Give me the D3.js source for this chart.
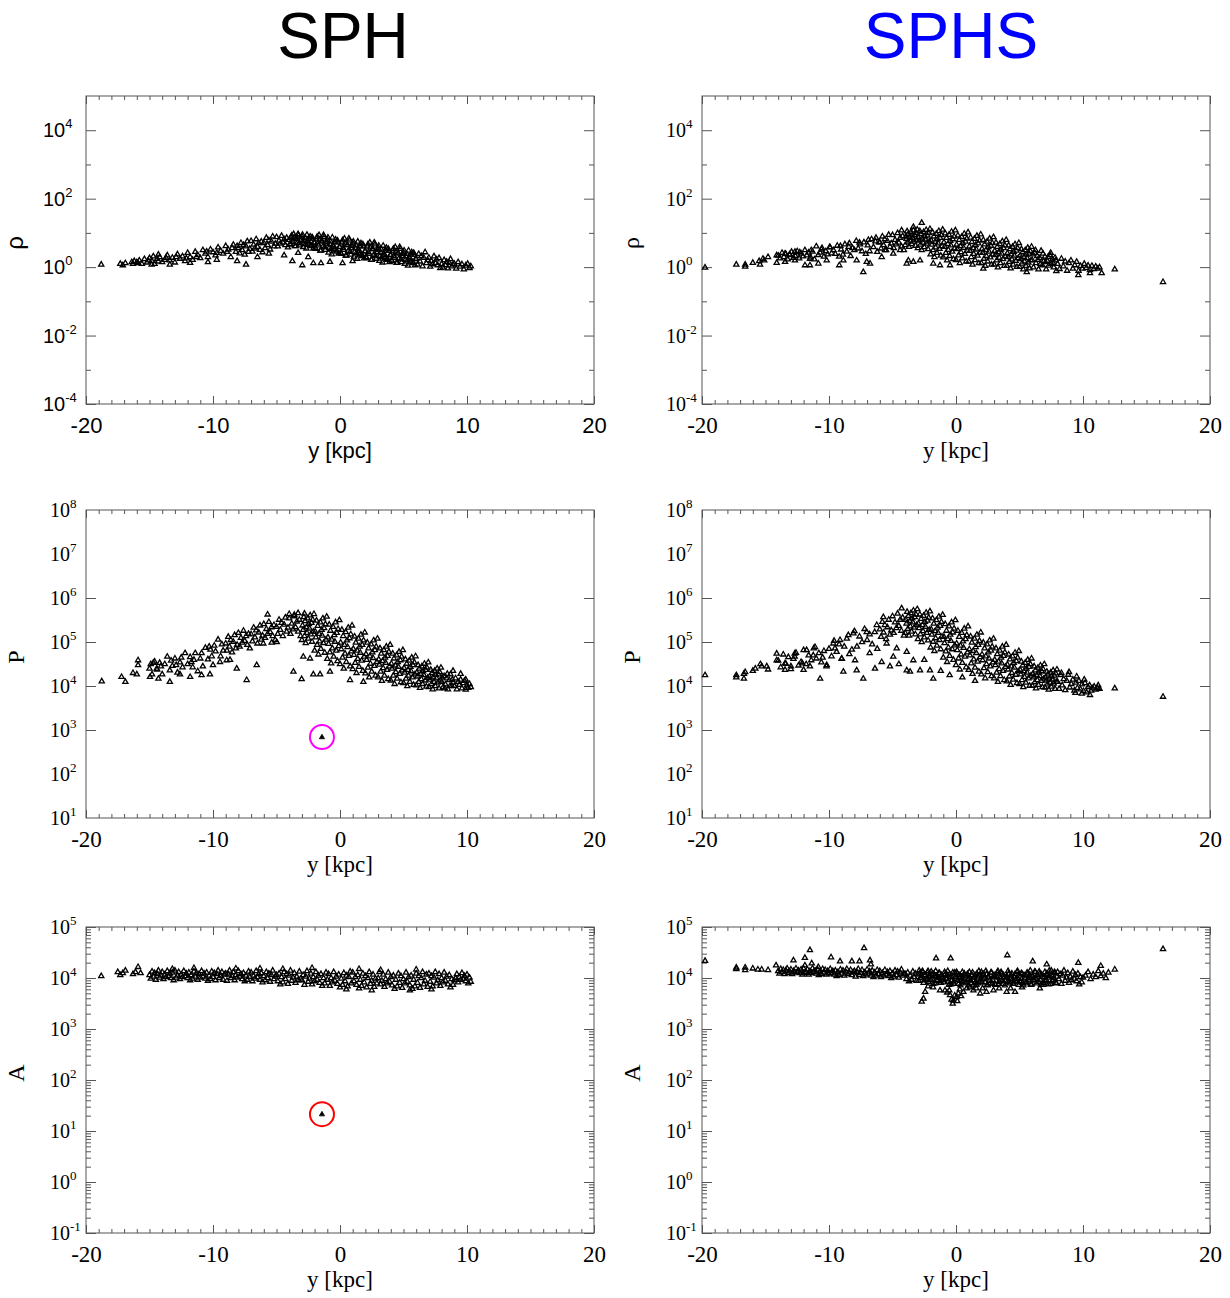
<!DOCTYPE html>
<html>
<head>
<meta charset="utf-8">
<script src="https://cdn.jsdelivr.net/npm/d3@7"></script>
<style>
  body { margin: 0; background: #fff; }
</style>
</head>
<body>
<script>
// ---- labels / ticks ----
const titles = ["SPH", "SPHS"];
const titleColors = ["#000000", "#0000ff"];
const xTicks = [-20, -10, 0, 10, 20];
const xLabel = "y [kpc]";
const rowLabels = ["ρ", "P", "A"];
const rowDomains = [[1e-4, 1e5], [1e1, 1e8], [1e-1, 1e5]];
const rowLabelExps = [[-4, -2, 0, 2, 4], [1, 2, 3, 4, 5, 6, 7, 8], [-1, 0, 1, 2, 3, 4, 5]];
const rowMajorExps = [[-4, -2, 0, 2, 4], [3, 4, 5, 6], [-1, 0, 1, 2, 3, 4, 5]];
const rowMinorExps = [[-3, -1, 1, 3], [], []];

// ---- data: [y in kpc, log10(value)] ----
const sphRho = [
  [-18.8,0.08],[-17.3,0.1],[-17.1,0.06],[-16.9,0.12],[-16.4,0.15],[-16.2,0.18],[-16.3,0.1],
  [-14.83,0.08],[-14.7,0.32],[-14.3,0.37],[-13.4,0.08],[-11.8,0.13],[-10.4,0.15],[-9.7,0.22],[-8.1,0.18],
  [-7.4,0.08],[-3.75,0.18],[-2.97,0.06],[-2.1,0.12],[-1.5,0.12],[-0.79,0.16],[0.2,0.12],[0.99,0.18],
  [-4.4,0.35],[-3.3,0.42],[-2.5,0.3],[-5.6,0.4],[-6.5,0.3],
  [-16.0,0.15],[-15.8,0.2],[-15.6,0.1],[-15.4,0.24],[-15.2,0.14],[-15.0,0.27],[-14.8,0.18],[-14.6,0.1],
  [-14.4,0.25],[-14.2,0.3],[-14.0,0.15],[-13.8,0.22],[-13.6,0.35],[-13.4,0.2],[-13.2,0.28],[-13.0,0.14],
  [-12.8,0.38],[-12.6,0.25],[-12.4,0.32],[-12.2,0.18],[-12.0,0.42],[-11.8,0.3],[-11.6,0.22],[-11.4,0.45],
  [-11.2,0.36],[-11.0,0.27],[-10.8,0.5],[-10.6,0.4],[-10.4,0.3],[-10.2,0.52],[-10.0,0.44],[-9.8,0.35],
  [-9.6,0.58],[-9.4,0.48],[-9.2,0.4],[-9.0,0.62],[-8.8,0.52],[-8.6,0.3],[-8.4,0.66],[-8.2,0.45],
  [-15.9,0.12],[-15.1,0.2],[-14.3,0.17],[-13.7,0.28],[-12.9,0.3],[-12.1,0.26],[-11.3,0.3],[-10.5,0.46],
  [-9.7,0.42],[-8.9,0.45],[-8.5,0.56],[-8.1,0.62],
  [-8.0,0.56],[-7.9,0.41],[-7.8,0.71],[-7.7,0.5],[-7.6,0.65],[-7.5,0.37],[-7.4,0.61],[-7.3,0.76],[-7.2,0.45],[-7.1,0.54],
  [-7.0,0.77],[-6.9,0.46],[-6.8,0.66],[-6.7,0.55],[-6.6,0.82],[-6.5,0.6],[-6.4,0.71],[-6.3,0.51],[-6.2,0.75],[-6.1,0.44],
  [-6.0,0.71],[-5.9,0.56],[-5.8,0.86],[-5.7,0.65],[-5.6,0.79],[-5.5,0.52],[-5.4,0.75],[-5.3,0.9],[-5.2,0.61],[-5.1,0.69],
  [-5.0,0.88],[-4.9,0.61],[-4.8,0.78],[-4.7,0.69],[-4.6,0.92],[-4.5,0.73],[-4.4,0.82],[-4.3,0.65],[-4.2,0.86],[-4.1,0.58],
  [-4.0,0.8],[-3.9,0.66],[-3.8,0.93],[-3.7,0.74],[-3.6,0.87],[-3.5,0.62],[-3.4,0.83],[-3.3,0.97],[-3.2,0.7],[-3.1,0.78],
  [-3.0,0.9],[-2.9,0.59],[-2.8,0.79],[-2.7,0.68],[-2.6,0.95],[-2.5,0.73],[-2.4,0.84],[-2.3,0.64],[-2.2,0.88],[-2.1,0.55],
  [-2.0,0.71],[-1.9,0.54],[-1.8,0.89],[-1.7,0.64],[-1.6,0.81],[-1.5,0.49],[-1.4,0.76],[-1.3,0.94],[-1.2,0.59],[-1.1,0.69],
  [-1.0,0.81],[-0.9,0.43],[-0.8,0.68],[-0.7,0.54],[-0.6,0.87],[-0.5,0.6],[-0.4,0.73],[-0.3,0.49],[-0.2,0.78],[-0.1,0.4],
  [0.0,0.59],[0.1,0.39],[0.2,0.79],[0.3,0.51],[0.4,0.7],[0.5,0.34],[0.6,0.65],[0.7,0.84],[0.8,0.45],[0.9,0.56],
  [1.0,0.7],[1.1,0.31],[1.2,0.56],[1.3,0.42],[1.4,0.75],[1.5,0.47],[1.6,0.61],[1.7,0.36],[1.8,0.67],[1.9,0.26],
  [2.0,0.47],[2.1,0.27],[2.2,0.67],[2.3,0.39],[2.4,0.58],[2.5,0.22],[2.6,0.53],[2.7,0.72],[2.8,0.33],[2.9,0.44],
  [3.0,0.57],[3.1,0.19],[3.2,0.44],[3.3,0.3],[3.4,0.63],[3.5,0.36],[3.6,0.49],[3.7,0.25],[3.8,0.54],[3.9,0.15],
  [4.0,0.36],[4.1,0.18],[4.2,0.54],[4.3,0.28],[4.4,0.46],[4.5,0.13],[4.6,0.41],[4.7,0.59],[4.8,0.23],[4.9,0.33],
  [5.0,0.44],[5.1,0.1],[5.2,0.32],[5.3,0.2],[5.4,0.49],[5.5,0.25],[5.6,0.37],[5.7,0.15],[5.8,0.42],[5.9,0.06],
  [6.0,0.24],[6.1,0.08],[6.2,0.39],[6.3,0.17],[6.4,0.33],[6.5,0.03],[6.6,0.28],[6.7,0.44],[6.8,0.12],[6.9,0.21],
  [7.0,0.28],[7.1,0.02],[7.2,0.19],[7.3,0.09],[7.4,0.32],[7.5,0.13],[7.6,0.23],[7.7,0.06],[7.8,0.27],[7.9,-0.02],
  [8.0,0.1],[8.1,-0.01],[8.2,0.21],[8.3,0.06],[8.4,0.16],[8.5,-0.03],[8.6,0.13],[8.7,0.24],[8.8,0.03],[8.9,0.08],
  [9.0,0.1],[9.15,-0.04],[9.3,0.15],[9.45,0.02],[9.6,0.09],[9.75,-0.06],[9.9,0.05],[10.05,0.1],[10.2,-0.02],[10.3,0.03],
  [-3.95,0.68],[-3.85,0.89],[-3.75,0.78],[-3.65,0.97],[-3.55,0.62],[-3.45,0.83],[-3.35,0.72],[-3.25,0.93],[-3.15,0.64],[-3.05,0.81],
  [-2.95,0.95],[-2.85,0.7],[-2.75,0.86],[-2.65,0.55],[-2.55,0.77],[-2.45,0.66],[-2.35,0.9],[-2.25,0.62],[-2.15,0.84],[-2.05,0.73],
  [-1.95,0.56],[-1.85,0.84],[-1.75,0.69],[-1.65,0.94],[-1.55,0.49],[-1.45,0.76],[-1.35,0.61],[-1.25,0.89],[-1.15,0.51],[-1.05,0.74],
  [-0.95,0.87],[-0.85,0.57],[-0.75,0.76],[-0.65,0.38],[-0.55,0.65],[-0.45,0.52],[-0.35,0.81],[-0.25,0.46],[-0.15,0.73],[-0.05,0.6],
  [0.05,0.42],[0.15,0.73],[0.25,0.56],[0.35,0.84],[0.45,0.34],[0.55,0.65],[0.65,0.48],[0.75,0.79],[0.85,0.37],[0.95,0.62],
  [1.05,0.75],[1.15,0.45],[1.25,0.64],[1.35,0.25],[1.45,0.53],[1.55,0.39],[1.65,0.7],[1.75,0.33],[1.85,0.61],[1.95,0.47],
  [2.05,0.3],[2.15,0.61],[2.25,0.44],[2.35,0.72],[2.45,0.22],[2.55,0.53],[2.65,0.36],[2.75,0.67],[2.85,0.25],[2.95,0.5],
  [3.05,0.63],[3.15,0.33],[3.25,0.52],[3.35,0.14],[3.45,0.41],[3.55,0.28],[3.65,0.57],[3.75,0.22],[3.85,0.49],[3.95,0.36],
  [4.05,0.2],[4.15,0.49],[4.25,0.33],[4.35,0.59],[4.45,0.13],[4.55,0.41],[4.65,0.26],[4.75,0.54],[4.85,0.15],[4.95,0.39],
  [5.05,0.49],[5.15,0.22],[5.25,0.39],[5.35,0.05],[5.45,0.3],[5.55,0.17],[5.65,0.44],[5.75,0.12],[5.85,0.37],[5.95,0.25]
];

const sphP = [
  [-18.76,4.11],[-17.2,4.21],[-16.9,4.1],[-16.3,4.3],[-16.0,4.27],[-15.9,4.59],[-15.9,4.48],
  [-3.67,4.33],[-3.02,4.16],[-2.1,4.27],[-1.57,4.27],[-0.79,4.33],[-2.89,4.67],[-2.36,4.63],[-7.35,4.14],
  [-8.13,4.4],[-8.92,4.59],[-9.45,4.55],[-8.66,4.6],[-6.56,4.48],[-6.04,4.97],[-5.38,4.99],[-4.98,5.0],
  [-10.24,4.27],[-10.9,4.25],[-11.8,4.21],[-12.6,4.27],[-13.4,4.1],[-14.3,4.17],[-14.96,4.21],[-14.7,4.53],
  [-14.43,4.4],[0.79,4.14],[1.84,4.1],
  [-5.7,5.63],[-3.3,5.66],[-4.0,5.64],[-2.8,5.65],[-3.6,5.62],
  [-15.0,4.4],[-14.8,4.27],[-14.6,4.56],[-14.4,4.38],[-14.2,4.53],[-14.0,4.27],[-13.8,4.5],[-13.6,4.67],[-13.4,4.36],[-13.2,4.46],
  [-13.0,4.63],[-12.8,4.31],[-12.6,4.54],[-12.4,4.43],[-12.2,4.75],[-12.0,4.5],[-11.8,4.66],[-11.6,4.43],[-11.4,4.75],[-11.2,4.34],
  [-11.0,4.63],[-10.8,4.45],[-10.6,4.87],[-10.4,4.61],[-10.2,4.83],[-10.0,4.48],[-9.8,4.79],[-9.6,5.06],[-9.4,4.68],[-9.2,4.81],
  [-14.9,4.5],[-14.1,4.45],[-13.3,4.58],[-12.5,4.65],[-11.7,4.55],[-10.9,4.75],[-10.1,4.68],[-9.3,4.95],[-12.9,4.48],[-11.5,4.6],
  [-10.3,4.9],[-9.9,4.92],
  [-9.0,4.97],[-8.9,4.81],[-8.8,5.12],[-8.7,4.9],[-8.6,5.05],[-8.5,4.77],[-8.4,5.01],[-8.3,5.16],[-8.2,4.86],[-8.1,4.94],
  [-8.0,5.21],[-7.9,4.9],[-7.8,5.1],[-7.7,4.99],[-7.6,5.26],[-7.5,5.03],[-7.4,5.14],[-7.3,4.94],[-7.2,5.19],[-7.1,4.86],
  [-7.0,5.18],[-6.9,5.02],[-6.8,5.33],[-6.7,5.11],[-6.6,5.27],[-6.5,4.97],[-6.4,5.22],[-6.3,5.38],[-6.2,5.06],[-6.1,5.15],
  [-6.0,5.41],[-5.9,5.1],[-5.8,5.3],[-5.7,5.19],[-5.6,5.46],[-5.5,5.23],[-5.4,5.34],[-5.3,5.14],[-5.2,5.39],[-5.1,5.05],
  [-5.0,5.35],[-4.9,5.19],[-4.8,5.51],[-4.7,5.28],[-4.6,5.44],[-4.5,5.14],[-4.4,5.4],[-4.3,5.56],[-4.2,5.24],[-4.1,5.33],
  [-4.0,5.54],[-3.9,5.19],[-3.8,5.42],[-3.7,5.29],[-3.6,5.59],[-3.5,5.34],[-3.4,5.47],[-3.3,5.24],[-3.2,5.51],[-3.1,5.14],
  [-3.0,5.05],[-2.95,5.38],[-2.9,5.28],[-2.85,5.57],[-2.8,5.14],[-2.75,5.48],[-2.7,4.98],[-2.65,5.34],[-2.6,5.21],[-2.55,5.54],
  [-2.5,5.08],[-2.45,5.41],[-2.4,5.31],[-2.35,5.61],[-2.3,5.18],[-2.25,5.44],[-2.2,5.01],[-2.15,5.51],[-2.1,5.24],[-2.05,5.64],
  [-2.0,4.81],[-1.95,5.24],[-1.9,5.11],[-1.85,5.49],[-1.8,4.94],[-1.75,5.37],[-1.7,4.72],[-1.65,5.19],[-1.6,5.02],[-1.55,5.45],
  [-1.5,4.85],[-1.45,5.28],[-1.4,5.15],[-1.35,5.54],[-1.3,4.98],[-1.25,5.32],[-1.2,4.76],[-1.15,5.41],[-1.1,5.06],[-1.05,5.58],
  [-1.0,4.62],[-0.95,5.11],[-0.9,4.96],[-0.85,5.4],[-0.8,4.77],[-0.75,5.26],[-0.7,4.52],[-0.65,5.06],[-0.6,4.86],[-0.55,5.35],
  [-0.5,4.67],[-0.45,5.16],[-0.4,5.01],[-0.35,5.45],[-0.3,4.81],[-0.25,5.21],[-0.2,4.57],[-0.15,5.3],[-0.1,4.91],[-0.05,5.5],
  [0.0,4.5],[0.05,4.99],[0.1,4.84],[0.15,5.28],[0.2,4.65],[0.25,5.14],[0.3,4.4],[0.35,4.94],[0.4,4.74],[0.45,5.23],
  [0.5,4.55],[0.55,5.04],[0.6,4.89],[0.65,5.33],[0.7,4.69],[0.75,5.09],[0.8,4.45],[0.85,5.18],[0.9,4.79],[0.95,5.38],
  [1.0,4.39],[1.05,4.85],[1.1,4.71],[1.15,5.13],[1.2,4.53],[1.25,4.99],[1.3,4.3],[1.35,4.81],[1.4,4.62],[1.45,5.08],
  [1.5,4.44],[1.55,4.9],[1.6,4.76],[1.65,5.17],[1.7,4.58],[1.75,4.94],[1.8,4.35],[1.85,5.04],[1.9,4.67],[1.95,5.22],
  [2.0,4.29],[2.05,4.73],[2.1,4.6],[2.15,4.99],[2.2,4.42],[2.25,4.86],[2.3,4.2],[2.35,4.68],[2.4,4.51],[2.45,4.95],
  [2.5,4.33],[2.55,4.77],[2.6,4.64],[2.65,5.04],[2.7,4.46],[2.75,4.82],[2.8,4.24],[2.85,4.9],[2.9,4.55],[2.95,5.08],
  [3.0,4.2],[3.05,4.61],[3.1,4.49],[3.15,4.86],[3.2,4.33],[3.25,4.74],[3.3,4.12],[3.35,4.57],[3.4,4.41],[3.45,4.82],
  [3.5,4.24],[3.55,4.65],[3.6,4.53],[3.65,4.9],[3.7,4.37],[3.75,4.69],[3.8,4.16],[3.85,4.78],[3.9,4.45],[3.95,4.94],
  [4.0,4.13],[4.05,4.51],[4.1,4.4],[4.15,4.74],[4.2,4.24],[4.25,4.63],[4.3,4.05],[4.35,4.47],[4.4,4.32],[4.45,4.7],
  [4.5,4.17],[4.55,4.55],[4.6,4.44],[4.65,4.78],[4.7,4.28],[4.75,4.59],[4.8,4.09],[4.85,4.67],[4.9,4.36],[4.95,4.82],
  [5.0,4.07],[5.05,4.41],[5.1,4.31],[5.15,4.61],[5.2,4.17],[5.25,4.51],[5.3,4.0],[5.35,4.37],[5.4,4.24],[5.45,4.58],
  [5.5,4.1],[5.55,4.44],[5.6,4.34],[5.65,4.65],[5.7,4.2],[5.75,4.48],[5.8,4.03],[5.85,4.54],[5.9,4.27],[5.95,4.68],
  [6.0,4.02],[6.05,4.31],[6.1,4.22],[6.15,4.48],[6.2,4.1],[6.25,4.4],[6.3,3.96],[6.35,4.28],[6.4,4.16],[6.45,4.45],
  [6.5,4.05],[6.55,4.34],[6.6,4.25],[6.65,4.51],[6.7,4.13],[6.75,4.37],[6.8,3.99],[6.85,4.42],[6.9,4.19],[6.95,4.54],
  [7.0,3.98],[7.05,4.22],[7.1,4.15],[7.15,4.37],[7.2,4.05],[7.25,4.3],[7.3,3.93],[7.35,4.2],[7.4,4.1],[7.45,4.35],
  [7.5,4.0],[7.55,4.25],[7.6,4.18],[7.65,4.4],[7.7,4.08],[7.75,4.27],[7.8,3.95],[7.85,4.32],[7.9,4.13],[7.95,4.42],
  [8.0,4.1],[8.1,3.97],[8.2,4.23],[8.3,4.04],[8.4,4.18],[8.5,3.93],[8.6,4.14],[8.7,4.27],[8.8,4.01],[8.9,4.08],
  [8.05,4.2],[8.25,3.95],[8.45,4.28],[8.65,4.0],[8.85,4.15],
  [9.0,4.0],[9.1,4.18],[9.2,3.93],[9.3,4.1],[9.4,4.03],[9.5,4.15],[9.6,3.95],[9.7,4.07],[9.8,4.12],[9.9,3.92],
  [10.0,4.02],[10.1,3.96],[10.2,4.05],[10.3,3.98],[9.5,4.28],[8.9,4.35],[9.9,4.15]
];

const sphA = [
  [-18.8,4.04],[-17.5,4.12],[-17.3,4.06],[-17.1,4.1],[-16.9,4.15],[-16.3,4.08],[-16.1,4.12],[-15.9,4.22],[-15.7,4.1],
  [-15.0,4.06],[-14.9,3.99],[-14.8,4.13],[-14.7,4.03],[-14.6,4.1],[-14.5,3.97],[-14.4,4.08],[-14.3,4.15],[-14.2,4.01],[-14.1,4.05],
  [-14.0,4.12],[-13.9,3.98],[-13.8,4.07],[-13.7,4.02],[-13.6,4.14],[-13.5,4.04],[-13.4,4.09],[-13.3,4.0],[-13.2,4.11],[-13.1,3.96],
  [-13.0,4.15],[-12.9,4.01],[-12.8,4.05],[-12.7,4.12],[-12.6,3.98],[-12.5,4.07],[-12.4,4.02],[-12.3,4.14],[-12.2,4.04],[-12.1,4.09],
  [-12.0,4.0],[-11.9,4.11],[-11.8,3.96],[-11.7,4.06],[-11.6,3.99],[-11.5,4.13],[-11.4,4.03],[-11.3,4.1],[-11.2,3.97],[-11.1,4.08],
  [-11.0,4.01],[-10.9,4.14],[-10.8,4.03],[-10.7,4.09],[-10.6,3.99],[-10.5,4.11],[-10.4,3.95],[-10.3,4.05],[-10.2,3.98],[-10.1,4.13],
  [-10.0,4.02],[-9.9,4.1],[-9.8,3.96],[-9.7,4.08],[-9.6,4.15],[-9.5,4.0],[-9.4,4.04],[-9.3,4.12],[-9.2,3.97],[-9.1,4.07],
  [-9.0,4.09],[-8.9,3.95],[-8.8,4.07],[-8.7,4.15],[-8.6,4.0],[-8.5,4.04],[-8.4,4.12],[-8.3,3.96],[-8.2,4.06],[-8.1,4.01],
  [-8.0,4.14],[-7.9,4.03],[-7.8,4.08],[-7.7,3.98],[-7.6,4.1],[-7.5,3.94],[-7.4,4.05],[-7.3,3.97],[-7.2,4.13],[-7.1,4.02],
  [-7.0,4.11],[-6.9,3.94],[-6.8,4.05],[-6.7,3.99],[-6.6,4.14],[-6.5,4.02],[-6.4,4.08],[-6.3,3.97],[-6.2,4.1],[-6.1,3.92],
  [-6.0,4.04],[-5.9,3.96],[-5.8,4.12],[-5.7,4.0],[-5.6,4.09],[-5.5,3.93],[-5.4,4.06],[-5.3,4.15],[-5.2,3.98],[-5.1,4.03],
  [-5.0,4.06],[-4.9,3.94],[-4.8,4.09],[-4.7,3.88],[-4.6,4.02],[-4.5,3.92],[-4.4,4.12],[-4.3,3.98],[-4.2,4.08],[-4.1,3.89],
  [-4.0,4.05],[-3.9,4.15],[-3.8,3.95],[-3.7,4.01],[-3.6,4.1],[-3.5,3.91],[-3.4,4.03],[-3.3,3.96],[-3.2,4.13],[-3.1,3.99],
  [-3.0,3.96],[-2.9,4.06],[-2.8,3.87],[-2.7,4.03],[-2.6,4.14],[-2.5,3.93],[-2.4,3.99],[-2.3,4.09],[-2.2,3.88],[-2.1,4.02],
  [-2.0,3.94],[-1.9,4.12],[-1.8,3.97],[-1.7,4.05],[-1.6,3.91],[-1.5,4.08],[-1.4,3.85],[-1.3,4.0],[-1.2,3.9],[-1.1,4.11],
  [-1.0,3.97],[-0.9,4.08],[-0.8,3.85],[-0.7,4.0],[-0.6,3.92],[-0.5,4.12],[-0.4,3.95],[-0.3,4.03],[-0.2,3.89],[-0.1,4.07],
  [0.0,3.82],[0.1,3.99],[0.2,3.87],[0.3,4.1],[0.4,3.94],[0.5,4.05],[0.6,3.84],[0.7,4.02],[0.8,4.13],[0.9,3.9],
  [1.0,4.11],[1.1,3.94],[1.2,4.02],[1.3,3.87],[1.4,4.06],[1.5,3.8],[1.6,3.97],[1.7,3.85],[1.8,4.09],[1.9,3.92],
  [2.0,4.04],[2.1,3.82],[2.2,4.0],[2.3,4.12],[2.4,3.89],[2.5,3.95],[2.6,4.07],[2.7,3.83],[2.8,3.99],[2.9,3.9],
  [3.0,4.0],[3.1,4.12],[3.2,3.88],[3.3,3.95],[3.4,4.07],[3.5,3.83],[3.6,3.98],[3.7,3.9],[3.8,4.11],[3.9,3.93],
  [4.0,4.02],[4.1,3.86],[4.2,4.05],[4.3,3.79],[4.4,3.97],[4.5,3.84],[4.6,4.09],[4.7,3.91],[4.8,4.04],[4.9,3.81],
  [5.0,3.98],[5.1,3.9],[5.2,4.11],[5.3,3.93],[5.4,4.02],[5.5,3.86],[5.6,4.05],[5.7,3.79],[5.8,3.97],[5.9,3.84],
  [6.0,4.09],[6.1,3.91],[6.2,4.04],[6.3,3.81],[6.4,4.0],[6.5,4.12],[6.6,3.88],[6.7,3.95],[6.8,4.07],[6.9,3.83],
  [7.0,4.09],[7.1,3.93],[7.2,4.04],[7.3,3.84],[7.4,4.01],[7.5,4.12],[7.6,3.9],[7.7,3.96],[7.8,4.08],[7.9,3.85],
  [8.0,4.0],[8.1,3.92],[8.2,4.11],[8.3,3.95],[8.4,4.03],[8.5,3.88],[8.6,4.06],[8.7,3.82],[8.8,3.98],[8.9,3.87],
  [9.0,3.96],[9.1,4.0],[9.2,4.08],[9.3,3.92],[9.4,4.02],[9.5,3.97],[9.6,4.1],[9.7,3.99],[9.8,4.04],[9.9,3.94],
  [10.0,4.07],[10.1,3.9],[10.2,4.01],[10.3,3.93],
  [-11.5,4.2],[-8.2,4.19],[-4.5,4.18],[-2.2,4.2],[1.5,4.18],[3.2,4.16],[6.0,4.17],[-13.2,4.18],[-6.3,4.19],
  [2.5,3.76],[5.5,3.76],[7.2,3.78],[0.5,3.78]
];

const sphsRho = [
  [-19.76,-0.01],[-17.3,0.08],[-16.6,0.08],[-16.6,0.02],[-16.0,0.13],[-15.5,0.18],[-15.2,0.25],[-14.8,0.3],[-15.1,0.2],
  [-15.43,0.08],[-14.12,0.13],[-14.12,0.35],[-13.46,0.16],[-13.46,0.4],[-12.68,0.2],[-12.68,0.45],[-11.89,0.06],[-11.5,0.06],
  [-11.5,0.25],[-10.84,0.11],[-10.18,0.2],[-9.19,0.06],[-8.87,0.2],[-7.82,0.2],[-7.3,-0.14],[-7.03,0.16],[-6.77,0.11],
  [-5.85,0.3],[-5.59,0.5],[-4.94,0.4],[-4.4,0.5],[-3.88,0.11],[-3.75,0.2],[-3.36,0.16],[-2.83,0.2],[-1.79,0.11],[-1.26,0.06],
  [-0.47,0.06],[2.15,-0.04],[5.57,-0.14],[9.63,-0.23],[10.55,-0.17],[11.47,-0.17],[12.5,-0.06],[16.3,-0.43],
  [-2.7,1.3],[-3.36,1.18],[-4.28,1.08],
  [-14.0,0.34],[-13.85,0.26],[-13.7,0.42],[-13.55,0.3],[-13.4,0.39],[-13.25,0.23],[-13.1,0.36],[-12.95,0.45],[-12.8,0.28],[-12.65,0.33],
  [-12.5,0.47],[-12.35,0.26],[-12.2,0.4],[-12.05,0.32],[-11.9,0.5],[-11.75,0.35],[-11.6,0.43],[-11.45,0.29],[-11.3,0.46],[-11.15,0.23],
  [-11.0,0.61],[-10.85,0.36],[-10.7,0.43],[-10.55,0.56],[-10.4,0.31],[-10.25,0.47],[-10.1,0.38],[-9.95,0.59],[-9.8,0.41],[-9.65,0.5],
  [-9.5,0.39],[-9.35,0.63],[-9.2,0.31],[-9.05,0.52],[-8.9,0.37],[-8.75,0.67],[-8.6,0.46],[-8.45,0.6],[-8.3,0.33],[-8.15,0.56],
  [-8.0,0.5],[-7.85,0.77],[-7.7,0.55],[-7.55,0.67],[-7.4,0.47],[-7.25,0.73],[-7.1,0.39],[-6.95,0.64],[-6.8,0.47],[-6.65,0.82],
  [-6.5,0.59],[-6.35,0.76],[-6.2,0.45],[-6.05,0.74],
  [-13.1,0.38],[-12.3,0.44],[-11.4,0.5],[-10.6,0.52],[-9.9,0.58],[-9.1,0.62],[-8.4,0.7],[-7.6,0.72],[-6.9,0.8],[-6.3,0.86],
  [-6.0,0.72],[-5.9,0.55],[-5.8,0.9],[-5.7,0.65],[-5.6,0.82],[-5.5,0.5],[-5.4,0.77],[-5.3,0.95],[-5.2,0.6],[-5.1,0.7],
  [-5.0,0.94],[-4.9,0.56],[-4.8,0.8],[-4.7,0.67],[-4.6,1.0],[-4.5,0.72],[-4.4,0.86],[-4.3,0.61],[-4.2,0.91],[-4.1,0.5],
  [-4.0,0.65],[-3.95,0.9],[-3.9,0.83],[-3.85,1.05],[-3.8,0.73],[-3.75,0.98],[-3.7,0.6],[-3.65,0.88],[-3.6,0.78],[-3.55,1.03],
  [-3.5,0.68],[-3.45,0.93],[-3.4,0.85],[-3.35,1.08],[-3.3,0.75],[-3.25,0.95],[-3.2,0.63],[-3.15,1.0],[-3.1,0.8],[-3.05,1.1],
  [-3.0,0.56],[-2.95,0.87],[-2.9,0.78],[-2.85,1.06],[-2.8,0.66],[-2.75,0.97],[-2.7,0.5],[-2.65,0.84],[-2.6,0.72],[-2.55,1.03],
  [-2.5,0.59],[-2.45,0.9],[-2.4,0.81],[-2.35,1.09],[-2.3,0.69],[-2.25,0.93],[-2.2,0.53],[-2.15,1.0],[-2.1,0.75],[-2.05,1.12],
  [-2.0,0.38],[-1.95,0.78],[-1.9,0.66],[-1.85,1.02],[-1.8,0.5],[-1.75,0.9],[-1.7,0.3],[-1.65,0.74],[-1.6,0.58],[-1.55,0.98],
  [-1.5,0.42],[-1.45,0.82],[-1.4,0.7],[-1.35,1.06],[-1.3,0.54],[-1.25,0.86],[-1.2,0.34],[-1.15,0.94],[-1.1,0.62],[-1.05,1.1],
  [-1.0,0.29],[-0.95,0.73],[-0.9,0.6],[-0.85,0.99],[-0.8,0.42],[-0.75,0.86],[-0.7,0.2],[-0.65,0.68],[-0.6,0.51],[-0.55,0.95],
  [-0.5,0.33],[-0.45,0.77],[-0.4,0.64],[-0.35,1.04],[-0.3,0.46],[-0.25,0.82],[-0.2,0.24],[-0.15,0.9],[-0.1,0.55],[-0.05,1.08],
  [0.0,0.21],[0.05,0.66],[0.1,0.53],[0.15,0.93],[0.2,0.35],[0.25,0.8],[0.3,0.12],[0.35,0.62],[0.4,0.44],[0.45,0.89],
  [0.5,0.26],[0.55,0.71],[0.6,0.57],[0.65,0.98],[0.7,0.39],[0.75,0.75],[0.8,0.17],[0.85,0.84],[0.9,0.48],[0.95,1.02],
  [1.0,0.17],[1.05,0.61],[1.1,0.48],[1.15,0.87],[1.2,0.3],[1.25,0.74],[1.3,0.08],[1.35,0.56],[1.4,0.39],[1.45,0.83],
  [1.5,0.21],[1.55,0.65],[1.6,0.52],[1.65,0.92],[1.7,0.34],[1.75,0.7],[1.8,0.12],[1.85,0.78],[1.9,0.43],[1.95,0.96],
  [2.0,0.12],[2.05,0.54],[2.1,0.42],[2.15,0.8],[2.2,0.25],[2.25,0.67],[2.3,0.04],[2.35,0.5],[2.4,0.33],[2.45,0.75],
  [2.5,0.17],[2.55,0.59],[2.6,0.46],[2.65,0.84],[2.7,0.29],[2.75,0.63],[2.8,0.08],[2.85,0.71],[2.9,0.38],[2.95,0.88],
  [3.0,0.08],[3.05,0.48],[3.1,0.36],[3.15,0.72],[3.2,0.2],[3.25,0.6],[3.3,0.0],[3.35,0.44],[3.4,0.28],[3.45,0.68],
  [3.5,0.12],[3.55,0.52],[3.6,0.4],[3.65,0.76],[3.7,0.24],[3.75,0.56],[3.8,0.04],[3.85,0.64],[3.9,0.32],[3.95,0.8],
  [4.0,0.04],[4.05,0.41],[4.1,0.3],[4.15,0.64],[4.2,0.16],[4.25,0.53],[4.3,-0.03],[4.35,0.38],[4.4,0.23],[4.45,0.6],
  [4.5,0.08],[4.55,0.45],[4.6,0.34],[4.65,0.67],[4.7,0.19],[4.75,0.49],[4.8,0.01],[4.85,0.56],[4.9,0.27],[4.95,0.71],
  [5.0,0.01],[5.05,0.34],[5.1,0.24],[5.15,0.53],[5.2,0.11],[5.25,0.44],[5.3,-0.06],[5.35,0.3],[5.4,0.17],[5.45,0.5],
  [5.5,0.04],[5.55,0.37],[5.6,0.27],[5.65,0.57],[5.7,0.14],[5.75,0.4],[5.8,-0.03],[5.85,0.47],[5.9,0.2],[5.95,0.6],
  [6.0,0.21],[6.1,0.0],[6.2,0.42],[6.3,0.12],[6.4,0.33],[6.5,-0.06],[6.6,0.27],[6.7,0.48],[6.8,0.06],[6.9,0.18],
  [7.0,0.31],[7.1,-0.06],[7.2,0.18],[7.3,0.05],[7.4,0.36],[7.5,0.1],[7.6,0.23],[7.7,0.0],[7.8,0.28],[7.9,-0.11],
  [6.05,0.38],[6.25,0.5],[6.45,0.22],[6.65,0.1],[6.85,0.4],[7.05,0.15],[7.25,0.3],[7.45,0.42],[7.65,0.12],[7.85,0.2],
  [8.0,0.1],[8.15,-0.05],[8.3,0.25],[8.45,0.03],[8.6,0.17],[8.75,-0.1],[8.9,0.12],[9.05,0.2],[9.2,-0.04],[9.35,0.06],
  [9.5,0.16],[9.65,-0.1],[9.8,0.04],[9.95,-0.04],[10.1,0.1],[10.25,-0.02],[10.4,0.05],[10.55,-0.08],[10.7,0.04],[10.85,-0.05],
  [11.0,0.02],[11.15,-0.04],[11.3,0.0]
];

const sphsP = [
  [-19.76,4.25],[-17.3,4.2],[-17.3,4.25],[-16.7,4.17],[-16.7,4.28],[-16.6,4.32],[-16.0,4.35],[-15.8,4.4],[-15.4,4.5],
  [-15.3,4.45],[-14.9,4.45],[-14.8,4.38],
  [-14.12,4.74],[-14.12,4.59],[-13.46,4.52],[-13.46,4.37],[-12.7,4.74],[-12.7,4.67],[-12.1,4.52],[-12.0,4.37],[-11.76,4.82],
  [-11.24,4.7],[-11.1,4.89],[-10.7,4.17],[-10.18,4.48],[-9.66,4.97],[-9.53,4.86],[-9.13,5.05],[-8.87,4.33],[-8.48,5.16],
  [-8.08,5.2],[-7.95,4.59],[-7.82,4.36],[-7.3,4.17],[-7.03,5.23],[-6.38,4.4],[-6.24,5.39],[-5.85,4.55],[-5.72,5.57],
  [-5.46,4.97],[-4.94,4.67],[-4.67,4.86],[-3.88,4.78],[-3.36,4.59],[-3.88,4.36],[-3.62,4.33],[-2.83,4.36],[-2.05,4.36],
  [-1.79,4.17],[-4.28,5.77],
  [-6.8,4.75],[-5.2,4.45],[-4.5,4.5],[-2.5,4.6],[-1.2,4.35],[-0.5,4.25],[0.5,4.2],[1.5,4.12],[-9.0,4.62],[-10.5,4.65],
  [-11.5,4.45],[-13.0,4.45],
  [-14.0,4.58],[-13.8,4.43],[-13.6,4.72],[-13.4,4.51],[-13.2,4.66],[-13.0,4.39],[-12.8,4.62],[-12.6,4.76],[-12.4,4.47],[-12.2,4.55],
  [-12.0,4.82],[-11.8,4.5],[-11.6,4.7],[-11.4,4.59],[-11.2,4.86],[-11.0,4.63],[-10.8,4.75],[-10.6,4.54],[-10.4,4.8],[-10.2,4.45],
  [-10.0,4.85],[-9.8,4.68],[-9.6,5.03],[-9.4,4.78],[-9.2,4.95],[-9.0,4.63],[-8.8,4.9],[-8.6,5.08],[-8.4,4.73],[-8.2,4.83],
  [-8.0,5.25],[-7.8,4.9],[-7.6,5.13],[-7.4,5.0],[-7.2,5.3],[-7.0,5.05],[-6.8,5.18],[-6.6,4.95],[-6.4,5.23],[-6.2,4.85],
  [-6.0,5.29],[-5.9,5.12],[-5.8,5.46],[-5.7,5.22],[-5.6,5.39],[-5.5,5.07],[-5.4,5.34],[-5.3,5.51],[-5.2,5.17],[-5.1,5.27],
  [-5.0,5.59],[-4.9,5.21],[-4.8,5.45],[-4.7,5.32],[-4.6,5.65],[-4.5,5.37],[-4.4,5.51],[-4.3,5.26],[-4.2,5.56],[-4.1,5.15],
  [-4.0,5.21],[-3.95,5.51],[-3.9,5.42],[-3.85,5.69],[-3.8,5.3],[-3.75,5.6],[-3.7,5.15],[-3.65,5.48],[-3.6,5.36],[-3.55,5.66],
  [-3.5,5.24],[-3.45,5.54],[-3.4,5.45],[-3.35,5.72],[-3.3,5.33],[-3.25,5.57],[-3.2,5.18],[-3.15,5.63],[-3.1,5.39],[-3.05,5.75],
  [-3.0,5.07],[-2.95,5.42],[-2.9,5.32],[-2.85,5.63],[-2.8,5.18],[-2.75,5.53],[-2.7,5.0],[-2.65,5.39],[-2.6,5.25],[-2.55,5.6],
  [-2.5,5.11],[-2.45,5.46],[-2.4,5.35],[-2.35,5.67],[-2.3,5.21],[-2.25,5.49],[-2.2,5.04],[-2.15,5.56],[-2.1,5.28],[-2.05,5.7],
  [-2.0,4.88],[-1.95,5.29],[-1.9,5.17],[-1.85,5.54],[-1.8,5.01],[-1.75,5.42],[-1.7,4.8],[-1.65,5.25],[-1.6,5.09],[-1.55,5.5],
  [-1.5,4.92],[-1.45,5.33],[-1.4,5.21],[-1.35,5.58],[-1.3,5.05],[-1.25,5.37],[-1.2,4.84],[-1.15,5.46],[-1.1,5.13],[-1.05,5.62],
  [-1.0,4.65],[-0.95,5.12],[-0.9,4.98],[-0.85,5.41],[-0.8,4.79],[-0.75,5.26],[-0.7,4.55],[-0.65,5.07],[-0.6,4.88],[-0.55,5.36],
  [-0.5,4.69],[-0.45,5.17],[-0.4,5.03],[-0.35,5.45],[-0.3,4.84],[-0.25,5.22],[-0.2,4.6],[-0.15,5.31],[-0.1,4.93],[-0.05,5.5],
  [0.0,4.48],[0.05,4.97],[0.1,4.82],[0.15,5.26],[0.2,4.63],[0.25,5.12],[0.3,4.38],[0.35,4.92],[0.4,4.72],[0.45,5.21],
  [0.5,4.53],[0.55,5.02],[0.6,4.87],[0.65,5.31],[0.7,4.67],[0.75,5.07],[0.8,4.43],[0.85,5.16],[0.9,4.77],[0.95,5.36],
  [1.0,4.37],[1.05,4.84],[1.1,4.7],[1.15,5.13],[1.2,4.52],[1.25,4.99],[1.3,4.28],[1.35,4.8],[1.4,4.61],[1.45,5.08],
  [1.5,4.42],[1.55,4.89],[1.6,4.75],[1.65,5.17],[1.7,4.56],[1.75,4.94],[1.8,4.33],[1.85,5.03],[1.9,4.66],[1.95,5.22],
  [2.0,4.27],[2.05,4.72],[2.1,4.59],[2.15,4.99],[2.2,4.41],[2.25,4.86],[2.3,4.18],[2.35,4.68],[2.4,4.5],[2.45,4.95],
  [2.5,4.32],[2.55,4.77],[2.6,4.63],[2.65,5.04],[2.7,4.45],[2.75,4.81],[2.8,4.23],[2.85,4.9],[2.9,4.54],[2.95,5.08],
  [3.0,4.18],[3.05,4.6],[3.1,4.48],[3.15,4.86],[3.2,4.31],[3.25,4.73],[3.3,4.1],[3.35,4.56],[3.4,4.39],[3.45,4.81],
  [3.5,4.23],[3.55,4.65],[3.6,4.52],[3.65,4.9],[3.7,4.35],[3.75,4.69],[3.8,4.14],[3.85,4.77],[3.9,4.44],[3.95,4.94],
  [4.0,4.11],[4.05,4.49],[4.1,4.38],[4.15,4.72],[4.2,4.22],[4.25,4.61],[4.3,4.03],[4.35,4.45],[4.4,4.3],[4.45,4.68],
  [4.5,4.15],[4.55,4.53],[4.6,4.42],[4.65,4.76],[4.7,4.26],[4.75,4.57],[4.8,4.07],[4.85,4.65],[4.9,4.34],[4.95,4.8],
  [5.0,4.05],[5.05,4.37],[5.1,4.27],[5.15,4.56],[5.2,4.14],[5.25,4.47],[5.3,3.98],[5.35,4.34],[5.4,4.21],[5.45,4.53],
  [5.5,4.08],[5.55,4.4],[5.6,4.31],[5.65,4.6],[5.7,4.18],[5.75,4.44],[5.8,4.01],[5.85,4.5],[5.9,4.24],[5.95,4.63],
  [6.0,4.01],[6.05,4.28],[6.1,4.2],[6.15,4.45],[6.2,4.09],[6.25,4.36],[6.3,3.95],[6.35,4.25],[6.4,4.14],[6.45,4.42],
  [6.5,4.03],[6.55,4.31],[6.6,4.23],[6.65,4.47],[6.7,4.12],[6.75,4.34],[6.8,3.98],[6.85,4.39],[6.9,4.17],[6.95,4.5],
  [7.0,3.97],[7.05,4.2],[7.1,4.13],[7.15,4.33],[7.2,4.04],[7.25,4.27],[7.3,3.92],[7.35,4.17],[7.4,4.08],[7.45,4.31],
  [7.5,3.99],[7.55,4.22],[7.6,4.15],[7.65,4.36],[7.7,4.06],[7.75,4.24],[7.8,3.94],[7.85,4.29],[7.9,4.1],[7.95,4.38],
  [8.0,4.1],[8.12,3.94],[8.24,4.25],[8.36,4.02],[8.48,4.16],[8.6,3.91],[8.72,4.12],[8.84,4.26],[8.96,3.97],[9.08,4.05],
  [9.2,4.15],[9.32,3.9],[9.44,4.08],[9.56,3.96],[9.68,4.12],[9.8,3.93],[9.92,4.04],[10.04,3.89],[10.16,4.07],[10.28,3.86],
  [10.4,3.98],[10.52,4.02],[10.64,3.9],[10.76,3.95],[10.88,3.99],[11.0,3.92],[11.15,3.96],[11.3,3.94],
  [8.3,4.3],[8.9,4.32],[9.5,4.22],[10.1,4.15],[11.2,4.02],[9.4,3.85],[10.55,3.8],[9.9,3.83],
  [12.5,3.95],[16.3,3.76]
];

const sphsA = [
  [-19.76,4.34],[-17.3,4.21],[-17.3,4.18],[-16.6,4.21],[-16.6,4.16],[-16.0,4.19],[-15.6,4.17],[-15.3,4.17],[-14.8,4.16],
  [-12.8,4.35],[-11.9,4.4],[-11.5,4.55],[-9.84,4.41],[-9.13,4.33],[-8.2,4.33],[-7.6,4.33],[-7.24,4.59],[-6.77,4.35],
  [-6.7,4.27],[-1.57,4.39],[-0.42,4.39],[4.04,4.45],[6.04,4.33],[7.14,4.27],[9.63,4.3],[11.4,4.24],[12.5,4.17],[16.3,4.57],
  [-14.17,4.25],[-11.9,4.25],[-11.36,4.29],[-10.84,4.22],
  [-2.7,3.54],[-2.56,3.6],[-2.43,3.73],[-1.26,3.76],[-0.87,3.76],[-0.53,3.76],[-0.47,3.67],[-0.26,3.5],[-0.21,3.56],
  [0.05,3.63],[0.18,3.7],[0.58,3.73],[0.84,3.8],[1.37,3.76],[1.9,3.7],[2.4,3.73],[2.95,3.76],[3.99,3.73],[4.65,3.73],[6.6,3.8],
  [-0.1,3.66],[0.3,3.78],[-0.7,3.72],[0.4,3.65],[1.1,3.82],[-1.8,3.82],[-2.2,3.84],[1.6,3.8],[2.1,3.8],[3.4,3.8],
  [4.3,3.8],[5.2,3.82],[-0.35,3.58],[0.1,3.55],
  [-14.0,4.14],[-13.9,4.09],[-13.8,4.18],[-13.7,4.12],[-13.6,4.16],[-13.5,4.08],[-13.4,4.15],[-13.3,4.19],[-13.2,4.1],[-13.1,4.13],
  [-13.0,4.17],[-12.9,4.08],[-12.8,4.14],[-12.7,4.11],[-12.6,4.19],[-12.5,4.12],[-12.4,4.15],[-12.3,4.1],[-12.2,4.17],[-12.1,4.07],
  [-12.0,4.19],[-11.9,4.1],[-11.8,4.12],[-11.7,4.17],[-11.6,4.07],[-11.5,4.14],[-11.4,4.1],[-11.3,4.19],[-11.2,4.12],[-11.1,4.15],
  [-11.0,4.09],[-10.9,4.17],[-10.8,4.06],[-10.7,4.13],[-10.6,4.08],[-10.5,4.18],[-10.4,4.11],[-10.3,4.16],[-10.2,4.07],[-10.1,4.14],
  [-10.0,4.09],[-9.9,4.18],[-9.8,4.1],[-9.7,4.14],[-9.6,4.07],[-9.5,4.15],[-9.4,4.04],[-9.3,4.12],[-9.2,4.06],[-9.1,4.17],
  [-9.0,4.09],[-8.9,4.15],[-8.8,4.05],[-8.7,4.13],[-8.6,4.18],[-8.5,4.08],[-8.4,4.11],[-8.3,4.16],[-8.2,4.06],[-8.1,4.12],
  [-8.0,4.14],[-7.9,4.03],[-7.8,4.12],[-7.7,4.18],[-7.6,4.06],[-7.5,4.1],[-7.4,4.16],[-7.3,4.04],[-7.2,4.11],[-7.1,4.07],
  [-7.0,4.17],[-6.9,4.09],[-6.8,4.13],[-6.7,4.05],[-6.6,4.15],[-6.5,4.02],[-6.4,4.11],[-6.3,4.05],[-6.2,4.16],[-6.1,4.08],
  [-6.0,4.14],[-5.9,4.02],[-5.8,4.1],[-5.7,4.05],[-5.6,4.16],[-5.5,4.07],[-5.4,4.12],[-5.3,4.04],[-5.2,4.14],[-5.1,4.0],
  [-5.0,4.09],[-4.9,4.03],[-4.8,4.15],[-4.7,4.06],[-4.6,4.13],[-4.5,4.01],[-4.4,4.11],[-4.3,4.17],[-4.2,4.05],[-4.1,4.08],
  [-4.0,4.08],[-3.9,3.98],[-3.8,4.11],[-3.7,3.94],[-3.6,4.05],[-3.5,3.97],[-3.4,4.13],[-3.3,4.02],[-3.2,4.09],[-3.1,3.95],
  [-3.0,4.07],[-2.9,4.15],[-2.8,4.0],[-2.7,4.04],[-2.6,4.12],[-2.5,3.96],[-2.4,4.06],[-2.3,4.01],[-2.2,4.14],[-2.1,4.03],
  [-2.0,3.97],[-1.9,4.07],[-1.8,3.89],[-1.7,4.04],[-1.6,4.14],[-1.5,3.95],[-1.4,4.0],[-1.3,4.1],[-1.2,3.91],[-1.1,4.03],
  [-1.0,3.96],[-0.9,4.12],[-0.8,3.99],[-0.7,4.06],[-0.6,3.93],[-0.5,4.08],[-0.4,3.88],[-0.3,4.02],[-0.2,3.92],[-0.1,4.11],
  [0.0,3.99],[0.1,4.09],[0.2,3.89],[0.3,4.02],[0.4,3.95],[0.5,4.12],[0.6,3.98],[0.7,4.05],[0.8,3.92],[0.9,4.08],
  [1.0,3.86],[1.1,4.01],[1.2,3.9],[1.3,4.11],[1.4,3.96],[1.5,4.06],[1.6,3.87],[1.7,4.03],[1.8,4.14],[1.9,3.93],
  [2.0,4.12],[2.1,3.98],[2.2,4.05],[2.3,3.92],[2.4,4.08],[2.5,3.86],[2.6,4.01],[2.7,3.9],[2.8,4.11],[2.9,3.96],
  [3.0,4.06],[3.1,3.87],[3.2,4.03],[3.3,4.14],[3.4,3.93],[3.5,3.99],[3.6,4.09],[3.7,3.89],[3.8,4.02],[3.9,3.95],
  [4.0,4.03],[4.1,4.14],[4.2,3.93],[4.3,3.99],[4.4,4.09],[4.5,3.89],[4.6,4.02],[4.7,3.95],[4.8,4.12],[4.9,3.98],
  [5.0,4.05],[5.1,3.92],[5.2,4.08],[5.3,3.86],[5.4,4.01],[5.5,3.9],[5.6,4.11],[5.7,3.96],[5.8,4.06],[5.9,3.87],
  [6.0,4.03],[6.1,3.96],[6.2,4.13],[6.3,3.99],[6.4,4.06],[6.5,3.93],[6.6,4.09],[6.7,3.87],[6.8,4.02],[6.9,3.91],
  [7.0,4.12],[7.1,3.97],[7.2,4.07],[7.3,3.88],[7.4,4.04],[7.5,4.15],[7.6,3.94],[7.7,4.0],[7.8,4.1],[7.9,3.9],
  [8.0,4.12],[8.1,3.98],[8.2,4.08],[8.3,3.89],[8.4,4.05],[8.5,4.15],[8.6,3.95],[8.7,4.01],[8.8,4.1],[8.9,3.91],
  [9.0,4.03],[9.1,3.96],[9.2,4.13],[9.3,3.99],[9.4,4.06],[9.5,3.94],[9.6,4.09],[9.7,3.88],[9.8,4.02],[9.9,3.92],
  [10.0,4.01],[10.2,4.05],[10.4,4.12],[10.6,3.98],[10.8,4.07],[11.0,4.02],[11.2,4.14],[11.4,4.04],[11.6,4.09],[11.8,4.0],[12.0,4.11],
  [-2.95,3.95],[-2.85,4.09],[-2.75,4.01],[-2.65,4.14],[-2.55,3.91],[-2.45,4.05],[-2.35,3.98],[-2.25,4.11],[-2.15,3.93],[-2.05,4.04],
  [-1.95,4.13],[-1.85,3.99],[-1.75,4.08],[-1.65,3.9],[-1.55,4.03],[-1.45,3.96],[-1.35,4.1],[-1.25,3.94],[-1.15,4.06],[-1.05,4.0],
  [-0.95,3.92],[-0.85,4.08],[-0.75,3.99],[-0.65,4.14],[-0.55,3.87],[-0.45,4.03],[-0.35,3.95],[-0.25,4.11],[-0.15,3.89],[-0.05,4.02],
  [0.05,4.12],[0.15,3.96],[0.25,4.06],[0.35,3.86],[0.45,4.01],[0.55,3.93],[0.65,4.09],[0.75,3.9],[0.85,4.05],[0.95,3.98],
  [1.05,4.12],[1.15,3.96],[1.25,4.06],[1.35,3.86],[1.45,4.01],[1.55,3.93],[1.65,4.09],[1.75,3.9],[1.85,4.05],[1.95,3.98],
  [2.05,3.92],[2.15,4.08],[2.25,3.99],[2.35,4.14],[2.45,3.87],[2.55,4.03],[2.65,3.95],[2.75,4.11],[2.85,3.89],[2.95,4.02],
  [3.05,4.03],[3.15,3.95],[3.25,4.11],[3.35,3.89],[3.45,4.02],[3.55,4.12],[3.65,3.96],[3.75,4.06],[3.85,3.86],[3.95,4.01],
  [4.05,3.93],[4.15,4.09],[4.25,3.9],[4.35,4.05],[4.45,3.98],[4.55,3.92],[4.65,4.08],[4.75,3.99],[4.85,4.14],[4.95,3.87],
  [5.05,3.94],[5.15,4.1],[5.25,3.91],[5.35,4.06],[5.45,3.99],[5.55,3.93],[5.65,4.09],[5.75,4.0],[5.85,4.15],[5.95,3.88],
  [6.05,4.04],[6.15,3.96],[6.25,4.12],[6.35,3.9],[6.45,4.03],[6.55,4.13],[6.65,3.97],[6.75,4.07],[6.85,3.87],[6.95,4.02],
  [7.05,3.94],[7.15,4.09],[7.25,4.01],[7.35,4.15],[7.45,3.89],[7.55,4.05],[7.65,3.96],[7.75,4.12],[7.85,3.91],[7.95,4.03]
];

// circled outliers in the SPH column: [col, row, point, colour]
const outliers = [
  [0, 1, [-1.42, 2.84], "#ff00ff"],
  [0, 2, [-1.42, 1.33], "#ff0000"]
];

const panelData = [[sphRho, sphP, sphA], [sphsRho, sphsP, sphsA]];

// ---- layout ----
const width = 1230, height = 1298;
const colX = [86, 702], panelW = 508;
const titleX = [343, 951];
const rowTop = [96, 510, 927], rowBottom = [404, 818, 1233];
const axisColor = "#555";
const sansFont = "'Liberation Sans', Arial, Helvetica, sans-serif";
const serifFont = "'Liberation Serif', 'Times New Roman', serif";
const tri = "M0,-2.8L2.6,1.7L-2.6,1.7Z";

const svg = d3.select("body").append("svg")
  .attr("width", width).attr("height", height)
  .style("background", "#fff");

// column titles
titles.forEach((t, c) => {
  svg.append("text")
    .attr("x", titleX[c]).attr("y", 58)
    .attr("text-anchor", "middle")
    .attr("font-family", sansFont).attr("font-size", 64)
    .attr("fill", titleColors[c])
    .text(t);
});

function drawPanel(c, r) {
  const sans = c === 0 && r === 0;
  const font = sans ? sansFont : serifFont;
  const x0 = colX[c], x1 = colX[c] + panelW;
  const x = d3.scaleLinear().domain([-20, 20]).range([x0, x1]);
  const y = d3.scaleLog().domain(rowDomains[r]).range([rowBottom[r], rowTop[r]]);
  const g = svg.append("g");

  // x minor & major ticks (inward, bottom and top)
  const xMinor = d3.range(-20, 21, 1);
  g.append("g").attr("transform", `translate(0,${rowBottom[r]})`)
    .call(d3.axisBottom(x).tickValues(xMinor).tickSize(-4).tickSizeOuter(0).tickFormat(""));
  g.append("g").attr("transform", `translate(0,${rowTop[r]})`)
    .call(d3.axisTop(x).tickValues(xMinor).tickSize(-4).tickSizeOuter(0).tickFormat(""));
  g.append("g").attr("transform", `translate(0,${rowTop[r]})`)
    .call(d3.axisTop(x).tickValues(xTicks).tickSize(-8).tickSizeOuter(0).tickFormat(""));
  const xb = g.append("g").attr("transform", `translate(0,${rowBottom[r]})`)
    .call(d3.axisBottom(x).tickValues(xTicks).tickSize(-8).tickSizeOuter(0)
      .tickPadding(13).tickFormat(d => String(d)));
  xb.attr("font-family", font).attr("font-size", sans ? 22 : 23);
  xb.selectAll("text").attr("fill", "#000");

  // y ticks (left and right, inward)
  const major = rowMajorExps[r].map(e => Math.pow(10, e));
  let minor = rowMinorExps[r].map(e => Math.pow(10, e));
  if (r === 2) {
    minor = [];
    for (let e = -1; e < 5; e++) for (let k = 2; k <= 9; k++) minor.push(k * Math.pow(10, e));
  }
  [[d3.axisLeft, x0], [d3.axisRight, x1]].forEach(([ax, px]) => {
    g.append("g").attr("transform", `translate(${px},0)`)
      .call(ax(y).tickValues(major).tickSize(-10).tickSizeOuter(0).tickFormat(""));
    if (minor.length)
      g.append("g").attr("transform", `translate(${px},0)`)
        .call(ax(y).tickValues(minor).tickSize(-5).tickSizeOuter(0).tickFormat(""));
  });

  g.selectAll(".domain").remove();
  g.selectAll(".tick line").attr("stroke", axisColor);

  // frame
  g.append("rect")
    .attr("x", x0).attr("y", rowTop[r])
    .attr("width", panelW).attr("height", rowBottom[r] - rowTop[r])
    .attr("fill", "none").attr("stroke", axisColor).attr("stroke-width", 1);

  // y tick labels 10^n
  const labX = x0 - (sans ? 43 : 36);
  rowLabelExps[r].forEach(e => {
    const t = g.append("text")
      .attr("x", labX).attr("y", y(Math.pow(10, e)) + 7)
      .attr("font-family", font).attr("font-size", 20).attr("fill", "#000");
    t.append("tspan").text("10");
    t.append("tspan").attr("dy", -9).attr("font-size", 13).text(String(e));
  });

  // axis titles
  g.append("text")
    .attr("x", (x0 + x1) / 2).attr("y", rowBottom[r] + 54)
    .attr("text-anchor", "middle")
    .attr("font-family", font).attr("font-size", sans ? 22 : 23)
    .text(xLabel);
  const ly = (rowTop[r] + rowBottom[r]) / 2 - 7;
  const lx = x0 - (r === 0 ? 63 : 62);
  g.append("text")
    .attr("transform", `translate(${lx},${ly}) rotate(-90)`)
    .attr("text-anchor", "middle")
    .attr("font-family", font).attr("font-size", 24)
    .text(rowLabels[r]);

  // points
  g.append("g").selectAll("path")
    .data(panelData[c][r])
    .join("path")
    .attr("d", tri)
    .attr("transform", d => `translate(${x(d[0])},${y(Math.pow(10, d[1]))})`)
    .attr("fill", "none")
    .attr("stroke", "#000")
    .attr("stroke-width", 1.3);

  // circled outliers
  outliers.filter(o => o[0] === c && o[1] === r).forEach(([, , p, col]) => {
    const cx = x(p[0]), cy = y(Math.pow(10, p[1]));
    g.append("path").attr("d", tri).attr("transform", `translate(${cx},${cy})`)
      .attr("fill", "#000").attr("stroke", "#000").attr("stroke-width", 0.8);
    g.append("circle").attr("cx", cx).attr("cy", cy).attr("r", 12)
      .attr("fill", "none").attr("stroke", col).attr("stroke-width", 2);
  });
}

for (let c = 0; c < 2; c++) for (let r = 0; r < 3; r++) drawPanel(c, r);
</script>
</body>
</html>
